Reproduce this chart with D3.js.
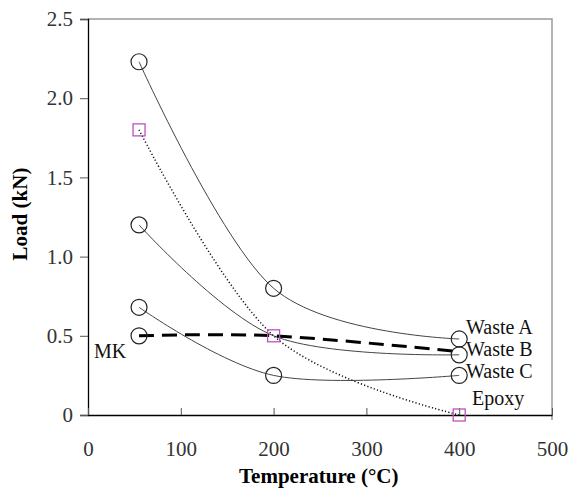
<!DOCTYPE html>
<html><head><meta charset="utf-8">
<script src="https://cdn.jsdelivr.net/npm/d3@7"></script>
<style>body{margin:0;background:#fff}svg{display:block}text{font-family:'Liberation Serif','Times New Roman',serif}</style>
</head><body><svg id="c" width="568" height="495"></svg>
<script>
const temps = [55, 200, 400];
const wasteA = [2.23, 0.80, 0.48];
const wasteB = [1.20, 0.50, 0.38];
const wasteC = [0.68, 0.25, 0.25];
const mk = [0.50, 0.50, 0.40];
const epoxy = [1.80, 0.50, 0.00];
const xTicks = [0, 100, 200, 300, 400, 500];
const yTicks = [0, 0.5, 1.0, 1.5, 2.0, 2.5];
const yTickLabels = ["0", "0.5", "1.0", "1.5", "2.0", "2.5"];
const seriesNames = ["Waste A", "Waste B", "Waste C", "MK", "Epoxy"];
// which points show a marker
const markA = [true, true, true];
const markB = [true, false, true];
const markC = [true, true, true];
const markMK = [true, false, false];
const markEpoxy = [true, true, true];

const svg = d3.select("#c");
const L = 88, R = 552, T = 19, B = 415;
const x = d3.scaleLinear().domain([0, 500]).range([L, R]);
const y = d3.scaleLinear().domain([0, 2.5]).range([B, T]);
const font = "'Liberation Serif','Times New Roman',serif";

// frame (top and right, grey)
svg.append("path").attr("d", `M${L},${T}H${R}V${B+5}`).attr("fill", "none")
  .attr("stroke", "#999").attr("stroke-width", 1.5);

// y axis
const ya = svg.append("g").attr("transform", `translate(${L},0)`)
  .call(d3.axisLeft(y).tickValues(yTicks).tickFormat((d, i) => yTickLabels[i]).tickSize(8).tickPadding(7));
ya.attr("font-family", font);
ya.select(".domain").attr("stroke", "#000").attr("stroke-width", 1.3);
ya.selectAll(".tick line").attr("stroke", "#555");
ya.selectAll("text").attr("font-family", font).attr("font-size", 21).attr("fill", "#333");

// x axis
const xa = svg.append("g").attr("transform", `translate(0,${B})`)
  .call(d3.axisBottom(x).tickValues(xTicks).tickFormat(d3.format("d")).tickSizeInner(-7).tickSizeOuter(0).tickPadding(26));
xa.attr("font-family", font);
xa.select(".domain").attr("stroke", "#000").attr("stroke-width", 1.3);
xa.selectAll(".tick line").attr("stroke", "#555");
xa.selectAll("text").attr("font-family", font).attr("font-size", 21).attr("fill", "#333");

const line = d3.line().x((d, i) => x(temps[i])).y(d => y(d)).curve(d3.curveCardinal.tension(0));

const series = [
  {v: wasteA, m: markA, stroke: "#444", w: 1, dash: null, shape: "circle"},
  {v: wasteB, m: markB, stroke: "#444", w: 1, dash: null, shape: "circle"},
  {v: wasteC, m: markC, stroke: "#444", w: 1, dash: null, shape: "circle"},
  {v: epoxy, m: markEpoxy, stroke: "#111", w: 1.5, dash: "1.2,2.2", shape: "square"},
  {v: mk, m: markMK, stroke: "#000", w: 3, dash: "15,8", shape: "circle"}
];

series.forEach(s => {
  svg.append("path").attr("d", line(s.v)).attr("fill", "none")
    .attr("stroke", s.stroke).attr("stroke-width", s.w).attr("stroke-dasharray", s.dash);
});
series.forEach(s => {
  s.v.forEach((d, i) => {
    if (!s.m[i]) return;
    if (s.shape === "circle") {
      svg.append("circle").attr("cx", x(temps[i])).attr("cy", y(d)).attr("r", 8)
        .attr("fill", "none").attr("stroke", "#222").attr("stroke-width", 1.2);
    } else {
      svg.append("rect").attr("x", x(temps[i]) - 6).attr("y", y(d) - 6).attr("width", 12).attr("height", 12)
        .attr("fill", "none").attr("stroke", "#c050c0").attr("stroke-width", 1.3);
    }
  });
});

// series labels
const labels = [
  {t: seriesNames[0], x: 466, y: 334},
  {t: seriesNames[1], x: 466, y: 356},
  {t: seriesNames[2], x: 466, y: 378},
  {t: seriesNames[3], x: 94, y: 358},
  {t: seriesNames[4], x: 472, y: 405}
];
labels.forEach(l => svg.append("text").attr("x", l.x).attr("y", l.y).text(l.t)
  .attr("font-family", font).attr("font-size", 20).attr("fill", "#111"));

// axis titles
svg.append("text").attr("x", 239).attr("y", 483)
  .attr("font-family", font).attr("font-size", 21).attr("font-weight", "bold").text("Temperature (°C)");
svg.append("text").attr("transform", `translate(27,214) rotate(-90)`).attr("text-anchor", "middle")
  .attr("font-family", font).attr("font-size", 21).attr("font-weight", "bold").text("Load (kN)");
</script></body></html>
